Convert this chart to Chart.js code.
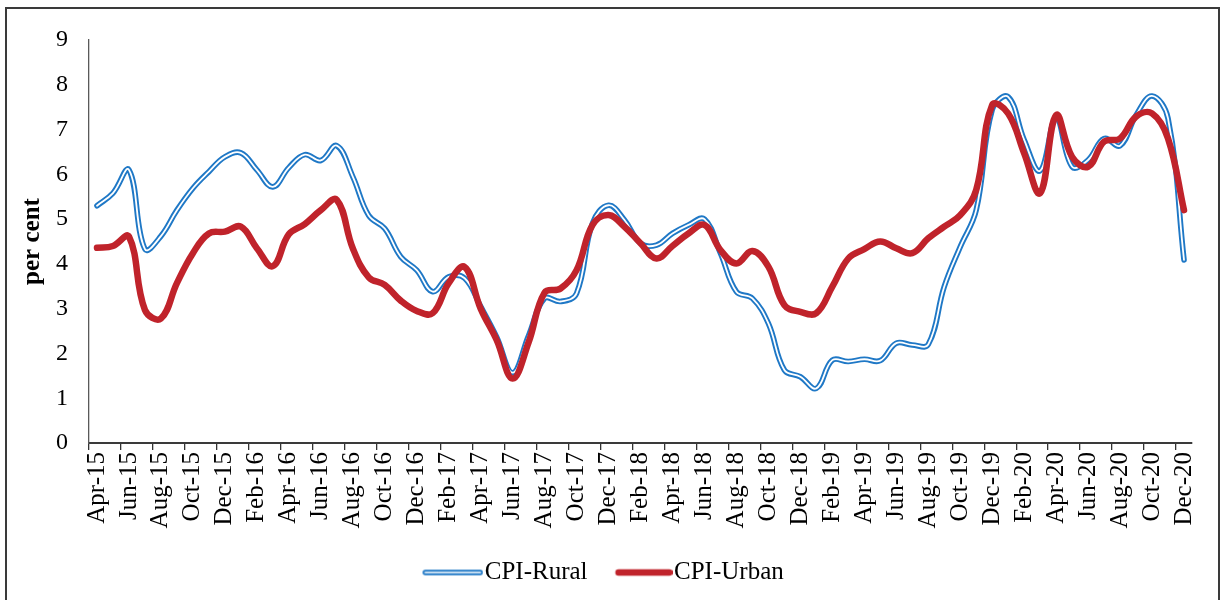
<!DOCTYPE html>
<html>
<head>
<meta charset="utf-8">
<script src="https://cdn.jsdelivr.net/npm/chart.js@4.4.1/dist/chart.umd.min.js"></script>
<style>
  html, body { margin: 0; padding: 0; background: #ffffff; overflow: hidden; }
  #wrap { position: relative; width: 1221px; height: 600px; overflow: hidden; background: #ffffff; }
  #frame { position: absolute; left: 5px; top: 7px; width: 1215px; height: 700px; border: 2px solid #3a3a3a; box-sizing: border-box; pointer-events: none; }
</style>
</head>
<body>
<div id="wrap">
  <canvas id="c" width="1221" height="600"></canvas>
  <div id="frame"></div>
</div>
<script>
const categories = [
  'Apr-15','May-15','Jun-15','Jul-15','Aug-15','Sep-15','Oct-15','Nov-15','Dec-15',
  'Jan-16','Feb-16','Mar-16','Apr-16','May-16','Jun-16','Jul-16','Aug-16','Sep-16','Oct-16','Nov-16','Dec-16',
  'Jan-17','Feb-17','Mar-17','Apr-17','May-17','Jun-17','Jul-17','Aug-17','Sep-17','Oct-17','Nov-17','Dec-17',
  'Jan-18','Feb-18','Mar-18','Apr-18','May-18','Jun-18','Jul-18','Aug-18','Sep-18','Oct-18','Nov-18','Dec-18',
  'Jan-19','Feb-19','Mar-19','Apr-19','May-19','Jun-19','Jul-19','Aug-19','Sep-19','Oct-19','Nov-19','Dec-19',
  'Jan-20','Feb-20','Mar-20','Apr-20','May-20','Jun-20','Jul-20','Aug-20','Sep-20','Oct-20','Nov-20','Dec-20'
];

const cpiRural = [
  5.30, 5.58, 6.10, 4.33, 4.62, 5.20, 5.69, 6.06, 6.39,
  6.48, 6.10, 5.72, 6.15, 6.44, 6.31, 6.64, 5.95, 5.08, 4.79, 4.16, 3.86,
  3.38, 3.71, 3.68, 3.05, 2.37, 1.57, 2.40, 3.23, 3.16, 3.34, 4.91, 5.31,
  4.98, 4.46, 4.42, 4.68, 4.87, 5.00, 4.24, 3.38, 3.23, 2.67, 1.63, 1.48,
  1.22, 1.85, 1.82, 1.87, 1.84, 2.23, 2.19, 2.20, 3.49, 4.38, 5.20, 7.44,
  7.73, 6.77, 6.08, 7.25, 6.17, 6.32, 6.80, 6.64, 7.32, 7.75, 7.25, 4.09
];

const cpiUrban = [
  4.36, 4.40, 4.61, 2.97, 2.78, 3.57, 4.24, 4.68, 4.72,
  4.83, 4.35, 3.95, 4.66, 4.89, 5.20, 5.43, 4.35, 3.70, 3.53, 3.18, 2.95,
  2.90, 3.57, 3.93, 3.00, 2.30, 1.44, 2.25, 3.36, 3.45, 3.86, 4.87, 5.09,
  4.83, 4.46, 4.12, 4.40, 4.68, 4.87, 4.31, 4.01, 4.29, 3.94, 3.08, 2.93,
  2.90, 3.49, 4.12, 4.33, 4.50, 4.35, 4.24, 4.57, 4.83, 5.09, 5.65, 7.55,
  7.36, 6.47, 5.58, 7.32, 6.39, 6.17, 6.73, 6.80, 7.29, 7.36, 6.80, 5.20
];

const yTickMin = 0;
const yTickMax = 9;
const yTickStep = 1;

const BLUE = '#1f78c6';
const RED = '#c0232b';
const SERIF = '"Liberation Serif", "Times New Roman", serif';

function legendLine(startX, color, width, inner) {
  const cv = document.createElement('canvas');
  cv.width = 86; cv.height = 10;
  const g = cv.getContext('2d');
  g.lineCap = 'round';
  g.strokeStyle = color; g.lineWidth = width;
  g.beginPath(); g.moveTo(startX, 5); g.lineTo(83, 5); g.stroke();
  if (inner) {
    g.strokeStyle = '#ffffff'; g.lineWidth = 1.7;
    g.beginPath(); g.moveTo(startX, 5); g.lineTo(83, 5); g.stroke();
  }
  return cv;
}
const ruralIcon = legendLine(28, BLUE, 5.4, true);
const urbanIcon = legendLine(32, RED, 6.5, false);

const ctx = document.getElementById('c').getContext('2d');
new Chart(ctx, {
  type: 'line',
  data: {
    labels: categories,
    datasets: [
      { label: 'CPI-Rural', data: cpiRural, borderColor: BLUE, borderWidth: 5.6, order: 2,
        pointRadius: 0, tension: 0.4, fill: false, borderCapStyle: 'round', borderJoinStyle: 'round' },
      { label: 'CPI-Rural-inner', data: cpiRural, borderColor: '#ffffff', borderWidth: 1.8, order: 1,
        pointRadius: 0, tension: 0.4, fill: false, borderCapStyle: 'round', borderJoinStyle: 'round' },
      { label: 'CPI-Urban', data: cpiUrban, borderColor: RED, borderWidth: 6.5, order: 0,
        pointRadius: 0, tension: 0.4, fill: false, borderCapStyle: 'round', borderJoinStyle: 'round' }
    ]
  },
  options: {
    responsive: false,
    animation: false,
    devicePixelRatio: 1,
    layout: { padding: { left: 0, right: 29, top: 40, bottom: 5 } },
    plugins: {
      tooltip: { enabled: false },
      legend: {
        position: 'bottom',
        labels: {
          usePointStyle: true,
          pointStyleWidth: 64,
          padding: 10,
          color: '#000000',
          font: { family: SERIF, size: 25 },
          filter: (item) => item.datasetIndex !== 1,
          sort: (a, b) => a.datasetIndex - b.datasetIndex,
          generateLabels: (chart) => {
            const items = Chart.defaults.plugins.legend.labels.generateLabels(chart);
            items.forEach(it => {
              it.pointStyle = it.datasetIndex === 0 ? ruralIcon : urbanIcon;
            });
            return items;
          }
        }
      }
    },
    scales: {
      x: {
        type: 'category',
        offset: true,
        grid: {
          display: true, drawOnChartArea: false, drawTicks: true, tickLength: 7, offset: true, lineWidth: 1.3,
          color: (c) => (c.index !== undefined && c.index % 2 === 0) ? '#333333' : 'rgba(0,0,0,0)'
        },
        border: { display: true, color: '#3a3a3a', width: 2 },
        ticks: {
          autoSkip: false, maxRotation: 90, minRotation: 90, padding: 2, color: '#000000',
          font: { family: SERIF, size: 25 },
          callback: function (v, i) { return i % 2 === 0 ? this.getLabelForValue(v) : ''; }
        },
        afterFit: (s) => { s.height = 107; }
      },
      y: {
        min: yTickMin, max: yTickMax,
        ticks: { stepSize: yTickStep, padding: 21, color: '#000000', font: { family: SERIF, size: 24 } },
        grid: { display: false, drawTicks: false },
        border: { display: true, color: '#595959', width: 1.3 },
        title: { display: true, text: 'per cent', color: '#000000',
                 font: { family: SERIF, size: 25, weight: 'bold' }, padding: { top: 18, bottom: 0 } },
        afterFit: (s) => { s.width = 89; }
      }
    }
  }
});
</script>
</body>
</html>
